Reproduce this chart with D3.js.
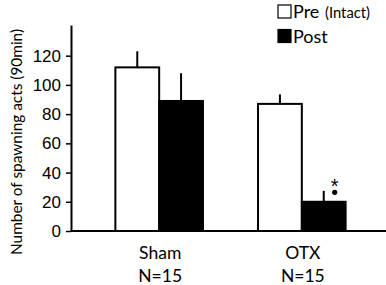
<!DOCTYPE html>
<html>
<head>
<meta charset="utf-8">
<script src="https://cdn.jsdelivr.net/npm/d3@7"></script>
<style>
  body { margin: 0; background: #fff; }
  svg { display: block; }
</style>
</head>
<body>
<svg id="chart" width="386" height="285"></svg>
<script>
// values
var groups = ["Sham", "OTX"]
var nLabels = ["N=15", "N=15"]
var phases = ["Pre", "Post"]
var preMeans = [112, 87]
var postMeans = [89, 20]
var preErr = [11, 6.5]
var postErr = [19, 7.5]
var yTicks = [0, 20, 40, 60, 80, 100, 120]

var W = 386, H = 285
var margin = { top: 25, right: 0, bottom: 54, left: 71 }

var svg = d3.select("#chart")

var rows = []
groups.forEach(function (g, i) {
  rows.push({ group: g, phase: "Pre", mean: preMeans[i], err: preErr[i] })
  rows.push({ group: g, phase: "Post", mean: postMeans[i], err: postErr[i] })
})

var y = d3.scaleLinear()
  .domain([0, 141])
  .range([H - margin.bottom, margin.top])

var x = d3.scaleBand()
  .domain(groups)
  .range([margin.left + 4, W])
  .paddingInner(0.386)
  .paddingOuter(0.283)

var xSub = d3.scaleBand()
  .domain(phases)
  .range([0, x.bandwidth()])

var fill = { Pre: "#fff", Post: "#000" }

// bars
svg.selectAll("rect.bar")
  .data(rows)
  .enter()
  .append("rect")
  .attr("class", "bar")
  .attr("x", function (d) { return x(d.group) + xSub(d.phase) })
  .attr("y", function (d) { return y(d.mean) })
  .attr("width", xSub.bandwidth())
  .attr("height", function (d) { return y(0) - y(d.mean) })
  .attr("fill", function (d) { return fill[d.phase] })
  .attr("stroke", "#000")
  .attr("stroke-width", 2)

// error bars (upper only)
svg.selectAll("line.err")
  .data(rows)
  .enter()
  .append("line")
  .attr("class", "err")
  .attr("x1", function (d) { return x(d.group) + xSub(d.phase) + xSub.bandwidth() / 2 })
  .attr("x2", function (d) { return x(d.group) + xSub(d.phase) + xSub.bandwidth() / 2 })
  .attr("y1", function (d) { return y(d.mean) })
  .attr("y2", function (d) { return y(d.mean + d.err) })
  .attr("stroke", "#000")
  .attr("stroke-width", 2)

// baseline across the plot
svg.append("line")
  .attr("x1", margin.left)
  .attr("x2", W)
  .attr("y1", y(0))
  .attr("y2", y(0))
  .attr("stroke", "#000")
  .attr("stroke-width", 2)

// y axis
var yAxis = svg.append("g")
  .attr("transform", "translate(" + margin.left + ",0)")
  .call(d3.axisLeft(y).tickValues(yTicks).tickSize(5).tickSizeOuter(0).tickPadding(5))
yAxis.select(".domain").attr("stroke-width", 2)
yAxis.selectAll(".tick line").attr("stroke-width", 1.5)
yAxis.selectAll(".tick text")
  .attr("fill", "#000")
  .style("font-family", "'Liberation Sans', Arial, sans-serif")
  .style("font-size", "17px")

svg.append("text")
  .attr("transform", "translate(22," + 142 + ")rotate(-90)")
  .attr("text-anchor", "middle")
  .attr("textLength", 226)
  .attr("lengthAdjust", "spacingAndGlyphs")
  .style("font-family", "Lato, 'Open Sans', sans-serif")
  .style("font-size", "14.5px")
  .text("Number of spawning acts (90min)")

// category labels
var cat = svg.selectAll("g.cat")
  .data(groups)
  .enter()
  .append("g")
  .attr("class", "cat")
  .attr("transform", function (d) { return "translate(" + (x(d) + x.bandwidth() / 2 + 1) + ",0)" })
  .style("font-family", "Lato, 'Open Sans', sans-serif")
  .style("font-size", "17.5px")
  .attr("text-anchor", "middle")
cat.append("text").attr("y", 259).text(function (d) { return d })
cat.append("text").attr("y", 282).text(function (d, i) { return nLabels[i] })

// significance marker over OTX post
var sig = rows[3]
var sx = x(sig.group) + xSub(sig.phase) + xSub.bandwidth() * 0.75
var sy = y(sig.mean + sig.err)
svg.append("text")
  .attr("x", sx)
  .attr("y", sy + 2)
  .attr("text-anchor", "middle")
  .style("font-family", "'Liberation Sans', Arial, sans-serif")
  .style("font-size", "20px")
  .text("*")
svg.append("circle")
  .attr("cx", sx)
  .attr("cy", sy + 1.5)
  .attr("r", 2.6)
  .attr("fill", "#000")

// legend
var leg = svg.append("g").attr("transform", "translate(278,5)")
leg.selectAll("rect")
  .data(phases)
  .enter()
  .append("rect")
  .attr("x", 0)
  .attr("y", function (d, i) { return i * 24.5 })
  .attr("width", 13)
  .attr("height", 13)
  .attr("fill", function (d) { return fill[d] })
  .attr("stroke", "#000")
  .attr("stroke-width", 1.2)
leg.selectAll("text.lbl")
  .data(phases)
  .enter()
  .append("text")
  .attr("class", "lbl")
  .attr("x", 15)
  .attr("y", function (d, i) { return 13.3 + i * 24.5 })
  .style("font-family", "Lato, 'Open Sans', sans-serif")
  .style("font-size", "18px")
  .text(function (d) { return d })
leg.append("text")
  .attr("x", 47)
  .attr("y", 13.3)
  .attr("textLength", 45)
  .attr("lengthAdjust", "spacingAndGlyphs")
  .style("font-family", "Lato, 'Open Sans', sans-serif")
  .style("font-size", "15.5px")
  .text("(Intact)")
</script>
</body>
</html>
